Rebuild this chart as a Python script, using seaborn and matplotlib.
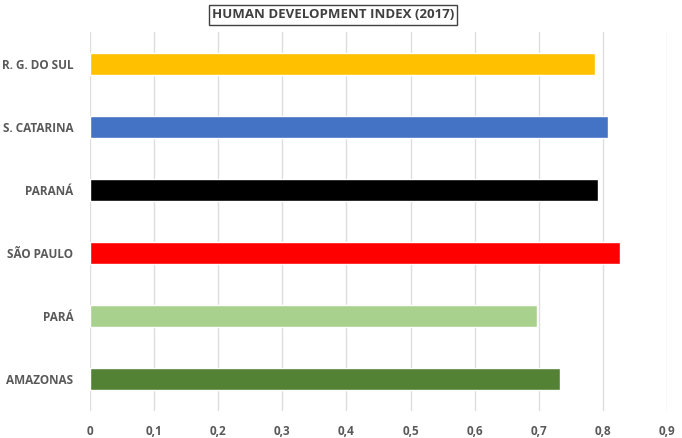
import numpy as np
import pandas as pd
import matplotlib
matplotlib.use("Agg")
import matplotlib.pyplot as plt
import seaborn as sns
from matplotlib.ticker import FuncFormatter

states = ["R. G. DO SUL", "S. CATARINA", "PARANÁ", "SÃO PAULO", "PARÁ", "AMAZONAS"]
hdi = [0.787, 0.808, 0.792, 0.826, 0.698, 0.733]
colors = ["#FFC000", "#4472C4", "#000000", "#FF0000", "#A9D18E", "#548235"]
xticks = [0, 0.1, 0.2, 0.3, 0.4, 0.5, 0.6, 0.7, 0.8, 0.9]

df = pd.DataFrame({"state": states, "hdi": hdi})

sns.set_style("white")
plt.rcParams["font.family"] = ["Open Sans", "DejaVu Sans"]

fig = plt.figure(figsize=(6.82, 4.38), dpi=100)
ax = fig.add_axes([90 / 682, 27 / 438, 577 / 682, 379 / 438])

sns.barplot(data=df, x="hdi", y="state", hue="state", palette=colors,
            orient="h", width=0.35, legend=False, ax=ax, saturation=1)

ax.set_xlim(0, 0.9)
ax.set_ylim(5.5, -0.5)
ax.set_xticks(xticks)
ax.xaxis.set_major_formatter(FuncFormatter(lambda v, p: "0" if v == 0 else f"{v:.1f}".replace(".", ",")))
ax.set_axisbelow(True)
ax.grid(axis="x", color="#DEDEDE", lw=1)
for s in ax.spines.values():
    s.set_visible(False)
ax.tick_params(length=0, labelsize=8.5, labelcolor="#595959")
ax.tick_params(axis="y", pad=12)
ax.tick_params(axis="x", pad=10)
for t in ax.get_xticklabels() + ax.get_yticklabels():
    t.set_fontweight("bold")
ax.set_xlabel("")
ax.set_ylabel("")

fig.text(333 / 682, 1 - 15 / 438, "HUMAN DEVELOPMENT INDEX (2017)", ha="center", va="center",
         fontsize=9.5, fontweight="bold", color="#404040",
         bbox=dict(boxstyle="square,pad=0.25", fc="white", ec="#404040", lw=1))

fig.savefig("out.png", dpi=100)
